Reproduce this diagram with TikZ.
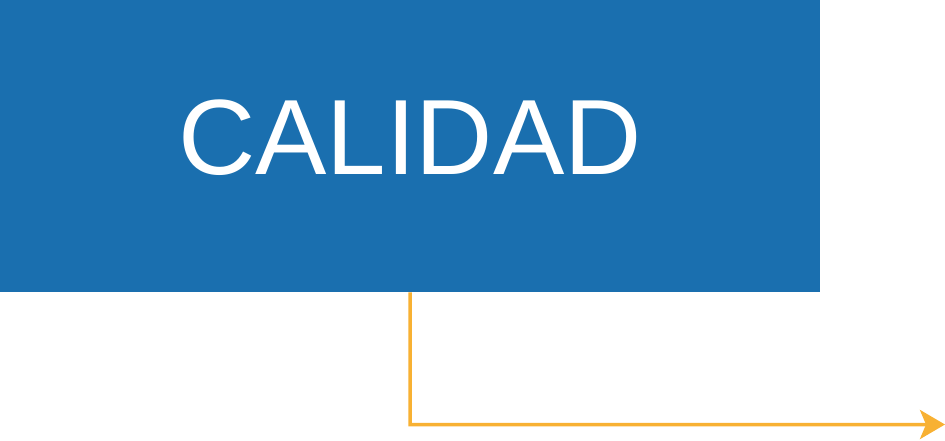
\documentclass[tikz,border=0pt]{standalone}
\usepackage{fontspec}
\setmainfont{Liberation Sans}
\usetikzlibrary{arrows.meta}
\definecolor{boxblue}{HTML}{1A6FAF}
\definecolor{linkorange}{HTML}{F8B133}
\tikzset{
  mainbox/.style={fill=boxblue, draw=none, minimum width=820pt, minimum height=292pt, inner sep=0pt},
  flowline/.style={draw=linkorange, line width=3.5pt, -{Stealth[length=25pt, width=29pt, inset=6pt]}}
}
\begin{document}
\begin{tikzpicture}[x=1pt,y=-1pt]
\useasboundingbox (0,0) rectangle (945,440);
\node[mainbox, anchor=north west] (box) at (0,0) {};
\node[text=white, font=\fontsize{107}{120}\selectfont, anchor=base] (label) at (410,174) {CALIDAD};
\coordinate (corner) at (410,424.5);
\coordinate (tip) at (945,424.5);
\draw[flowline] (box.south) -- (corner) -- (tip);
\end{tikzpicture}
\end{document}
